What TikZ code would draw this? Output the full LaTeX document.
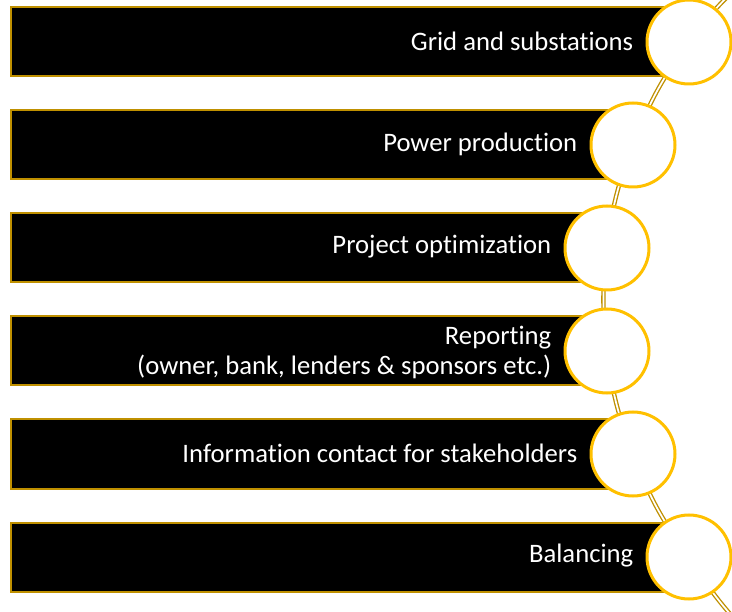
\documentclass[tikz,border=0pt]{standalone}
\usepackage{fontspec}
\setmainfont{Carlito}[Ligatures=CommonOff]
\pgfdeclarelayer{background}
\pgfsetlayers{background,main}
\definecolor{darkgold}{HTML}{BF9000}
\definecolor{gold}{HTML}{FFC000}
\tikzset{
  bar/.style={draw=darkgold, fill=black, line width=1.5pt, rectangle, inner sep=0pt, minimum height=51.75pt, anchor=west},
  disc/.style={draw=gold, fill=white, line width=2.25pt, circle, inner sep=0pt, minimum size=63pt},
  lbl/.style={text=white, font=\fontsize{20}{22.5}\selectfont, align=right, anchor=east, inner sep=0pt},
  track/.style={draw=darkgold, double=white, line width=1pt, double distance=1.3pt}
}
\begin{document}
\begin{tikzpicture}[x=0.75pt,y=0.75pt]
\useasboundingbox (0,0) rectangle (732,611);
% bars
\node[bar, minimum width=509.25pt] (b1) at (10,569) {};
\node[bar, minimum width=467.25pt] (b2) at (10,466) {};
\node[bar, minimum width=447.75pt] (b3) at (10,363) {};
\node[bar, minimum width=447.75pt] (b4) at (10,260) {};
\node[bar, minimum width=467.25pt] (b5) at (10,157) {};
\node[bar, minimum width=509.25pt] (b6) at (10,54) {};
% circles
\node[disc] (c1) at (689,569) {};
\node[disc] (c2) at (633,466) {};
\node[disc] (c3) at (607,363) {};
\node[disc] (c4) at (607,260) {};
\node[disc] (c5) at (633,157) {};
\node[disc] (c6) at (689,54) {};
% labels
\node[lbl] (t1) at (633.5,570) {Grid and substations};
\node[lbl] (t2) at (577.5,467) {Power production};
\node[lbl] (t3) at (551.5,364) {Project optimization};
\node[lbl] (t4) at (551.5,259) {Reporting\\(owner, bank, lenders \& sponsors etc.)};
\node[lbl] (t5) at (577.5,158) {Information contact for stakeholders};
\node[lbl] (t6) at (633.5,55) {Balancing};
% track
\coordinate (top) at (747.4,633);
\coordinate (bot) at (747.4,-22);
\begin{pgfonlayer}{background}
\begin{scope}
\clip (0,0) rectangle (732,611);
\draw[track] (top) to[bend right=5.75] (c1.center)
  to[bend right=7.8] (c2.center)
  to[bend right=7.06] (c3.center)
  to[bend right=6.85] (c4.center)
  to[bend right=7.06] (c5.center)
  to[bend right=7.8] (c6.center)
  to[bend right=5.75] (bot);
\end{scope}
\end{pgfonlayer}
\end{tikzpicture}
\end{document}
